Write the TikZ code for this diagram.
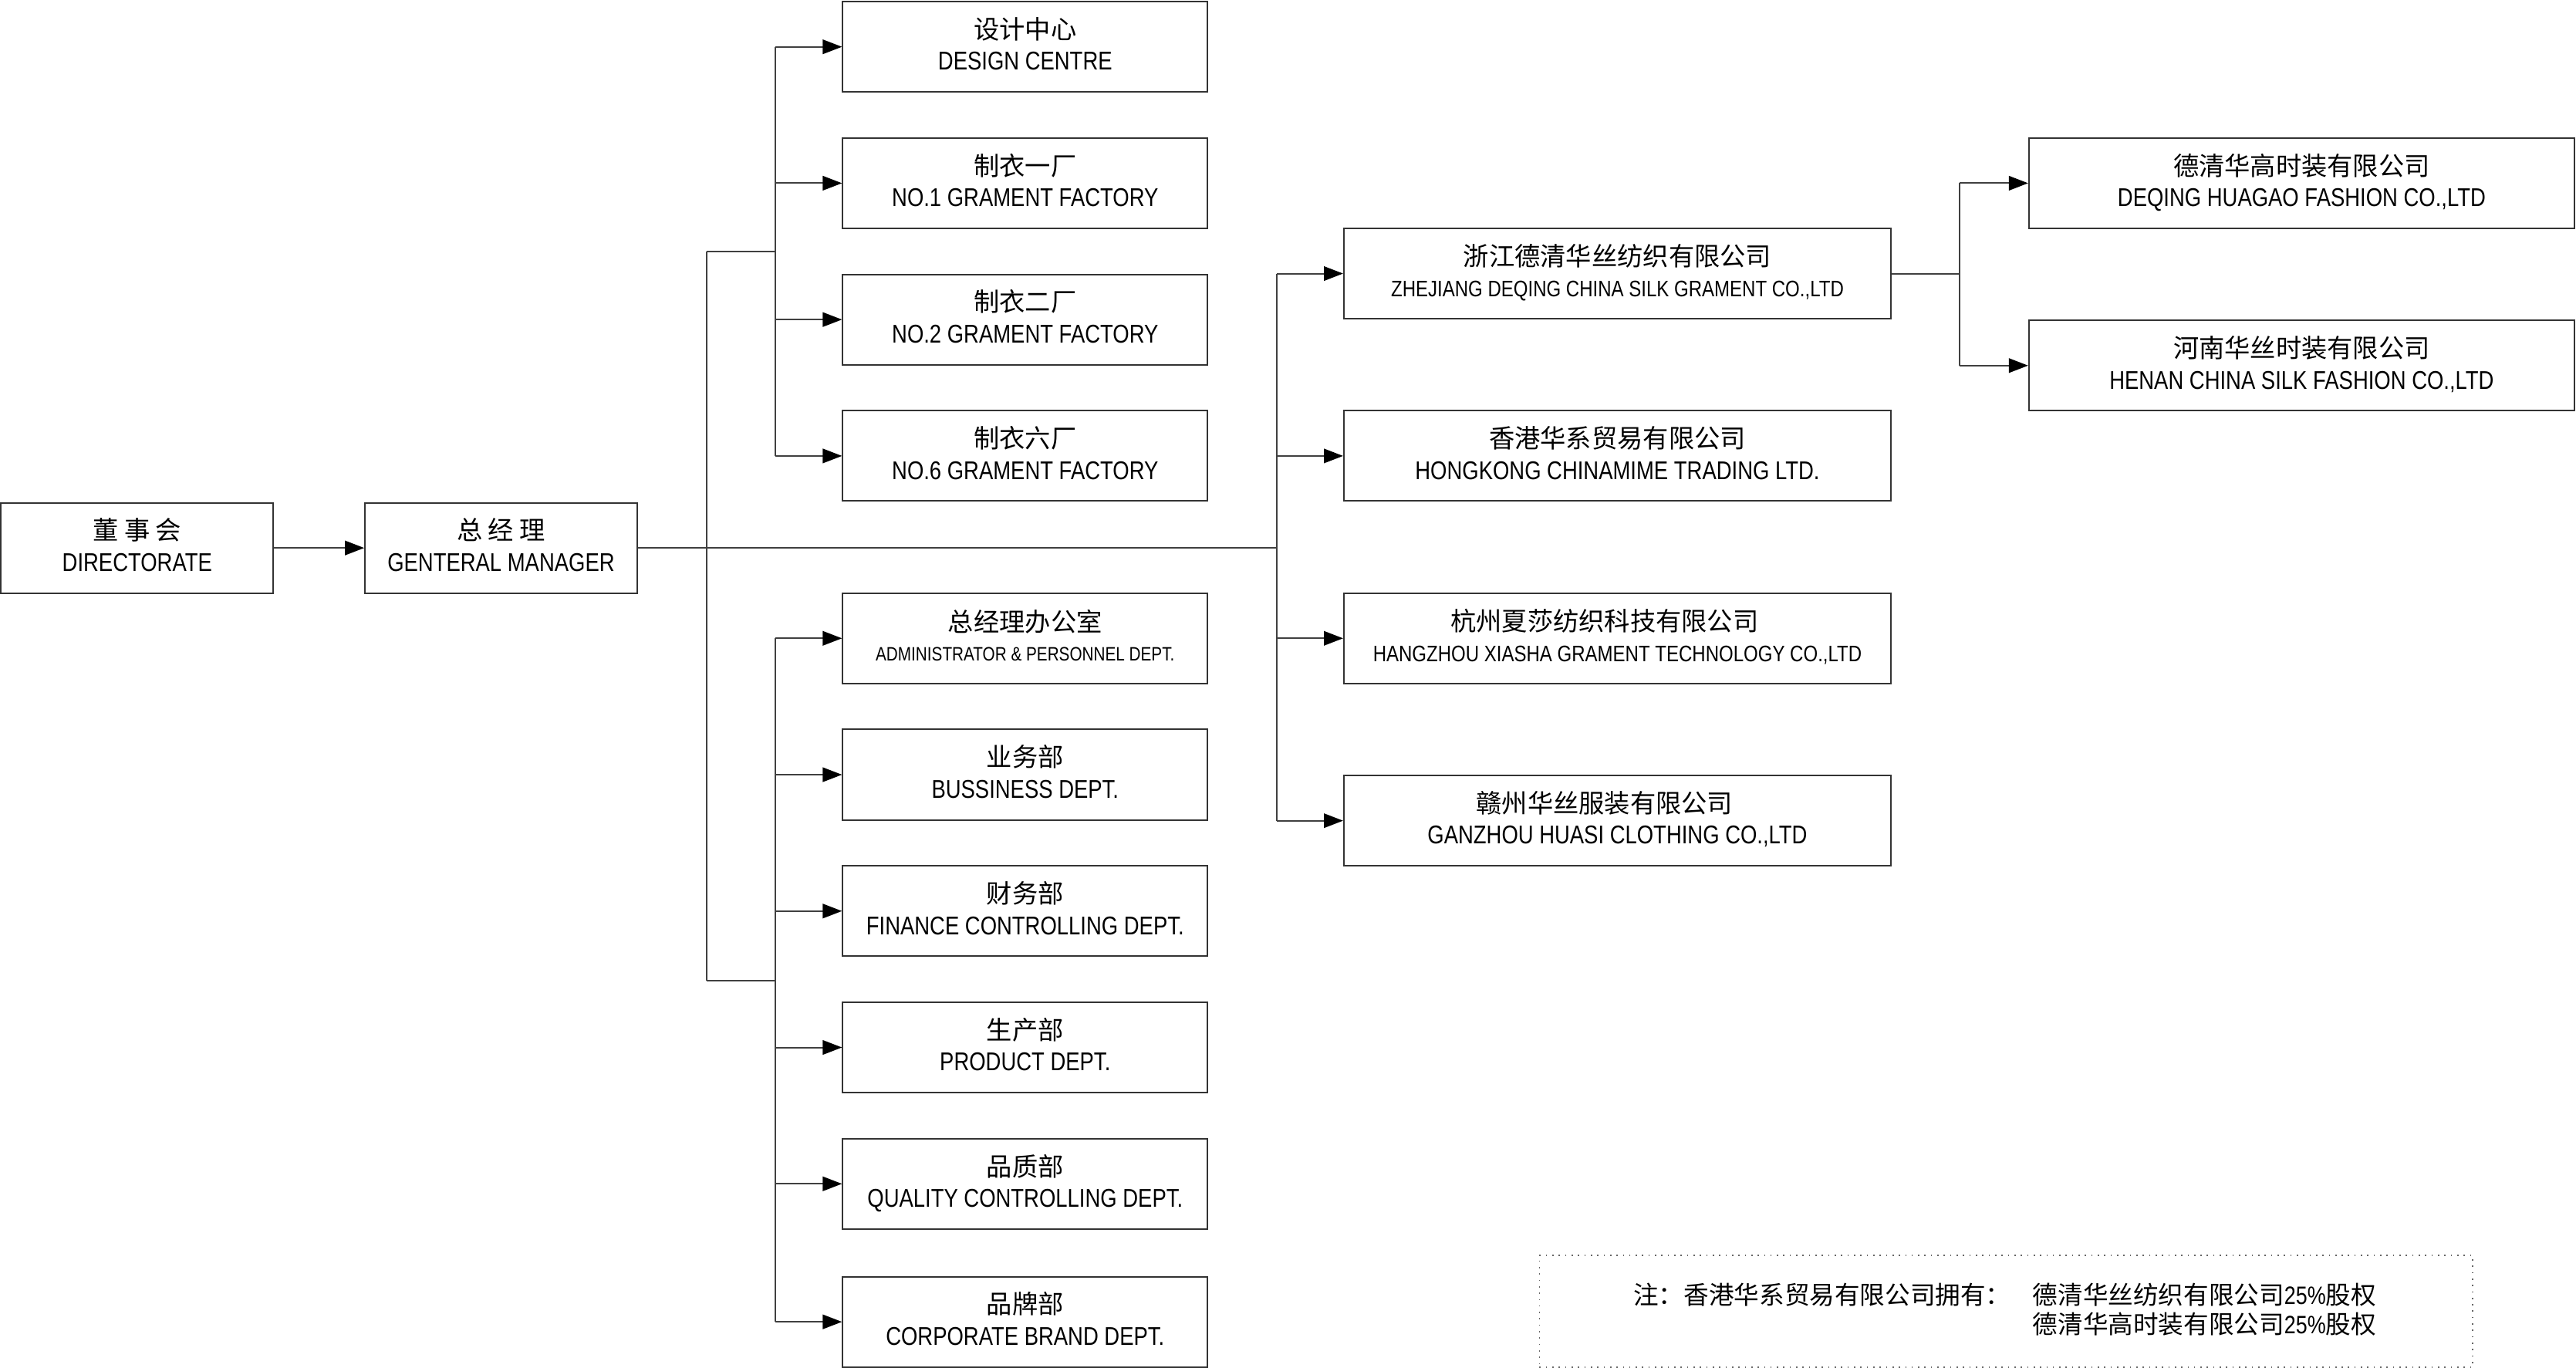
\documentclass[tikz,border=0pt]{standalone}
\usepackage{fontspec}
\setmainfont{Liberation Sans}[FakeStretch=0.825]
\newfontfamily\cjk{Noto Sans CJK SC}
\usetikzlibrary{arrows.meta}
\begin{document}
\begin{tikzpicture}[x=0.64pt,y=-0.64pt,
  box/.style={draw=black!80, line width=0.6pt, minimum height=35.2pt, inner sep=1pt, align=center,
    text depth=2.4pt, font=\fontsize{10}{12.2}\selectfont},
  wA/.style={minimum width=142.1pt},
  wB/.style={minimum width=213.1pt},
  wC/.style={minimum width=212.5pt},
  wD/.style={minimum width=106pt},
  conn/.style={draw=black!75, line width=0.6pt},
  arr/.style={conn, -{Triangle[length=7.5pt,width=5.6pt,fill=black,color=black]}},
  note/.style={draw=black!60, line width=0.5pt, dotted}
]
\useasboundingbox (0,0) rectangle (1568,832.6);

% left
\node[box,wD] (dir) at (83.5,333.5) {{\cjk 董 事 会}\\DIRECTORATE};
\node[box,wD] (gm) at (305,333.5) {{\cjk 总 经 理}\\GENTERAL MANAGER};

% top group
\node[box,wA] (ds) at (624,28.5) {{\cjk 设计中心}\\DESIGN CENTRE};
\node[box,wA] (f1) at (624,111.5) {{\cjk 制衣一厂}\\NO.1 GRAMENT FACTORY};
\node[box,wA] (f2) at (624,194.5) {{\cjk 制衣二厂}\\NO.2 GRAMENT FACTORY};
\node[box,wA] (f6) at (624,277.5) {{\cjk 制衣六厂}\\NO.6 GRAMENT FACTORY};

% lower group
\node[box,wA] (ad) at (624,388.5) {{\cjk 总经理办公室}\\[-1pt]{\fontsize{7.55}{10}\selectfont ADMINISTRATOR \& PERSONNEL DEPT.}};
\node[box,wA] (bu) at (624,471.5) {{\cjk 业务部}\\BUSSINESS DEPT.};
\node[box,wA] (fi) at (624,554.5) {{\cjk 财务部}\\FINANCE CONTROLLING DEPT.};
\node[box,wA] (pr) at (624,637.5) {{\cjk 生产部}\\PRODUCT DEPT.};
\node[box,wA] (qu) at (624,720.5) {{\cjk 品质部}\\QUALITY CONTROLLING DEPT.};
\node[box,wA] (br) at (624,804.5) {{\cjk 品牌部}\\CORPORATE BRAND DEPT.};

% subsidiaries
\node[box,wB] (zj) at (984.5,166.5) {{\cjk 浙江德清华丝纺织有限公司}\\{\fontsize{8.75}{12}\selectfont ZHEJIANG DEQING CHINA SILK GRAMENT CO.,LTD}};
\node[box,wB] (hk) at (984.5,277.5) {{\cjk 香港华系贸易有限公司}\\HONGKONG CHINAMIME TRADING LTD.};
\node[box,wB] (hz) at (984.5,388.5) {{\cjk 杭州夏莎纺织科技有限公司}\hspace*{10pt}\\{\fontsize{8.75}{12}\selectfont HANGZHOU XIASHA GRAMENT TECHNOLOGY CO.,LTD}};
\node[box,wB] (gz) at (984.5,499.5) {{\cjk 赣州华丝服装有限公司}\hspace*{10pt}\\GANZHOU HUASI CLOTHING CO.,LTD};

% right
\node[box,wC] (dq) at (1401,111.5) {{\cjk 德清华高时装有限公司}\\DEQING HUAGAO FASHION CO.,LTD};
\node[box,wC] (hn) at (1401,222.5) {{\cjk 河南华丝时装有限公司}\\HENAN CHINA SILK FASHION CO.,LTD};

% junction coordinates
\coordinate (ja) at (430,153);
\coordinate (jb) at (430,597);
\coordinate (bt) at (472,153);
\coordinate (bb) at (472,597);
\coordinate (mid) at (777,333.5);
\coordinate (rj) at (1193,166.5);

% connectors
\draw[arr] (dir.east) -- (gm.east -| gm.west);
\draw[conn] (gm.east) -- (mid);
\draw[conn] (ja) -- (jb);
\draw[conn] (ja) -- (bt);
\draw[conn] (jb) -- (bb);
\draw[conn] (bt |- ds.west) -- (bt |- f6.west);
\foreach \n in {ds,f1,f2,f6} \draw[arr] (bt |- \n.west) -- (\n.west);
\draw[conn] (bb |- ad.west) -- (bb |- br.west);
\foreach \n in {ad,bu,fi,pr,qu,br} \draw[arr] (bb |- \n.west) -- (\n.west);
\draw[conn] (mid |- zj.west) -- (mid |- gz.west);
\foreach \n in {zj,hk,hz,gz} \draw[arr] (mid |- \n.west) -- (\n.west);
\draw[conn] (zj.east) -- (rj);
\draw[conn] (rj |- dq.west) -- (rj |- hn.west);
\foreach \n in {dq,hn} \draw[arr] (rj |- \n.west) -- (\n.west);

% note
\node[note, minimum width=363.5pt, minimum height=43.5pt] (nb) at (1221,798) {};
\node[anchor=west, inner sep=0pt, font=\fontsize{9.8}{11.5}\selectfont] (n1) at (994,788) {\cjk 注：香港华系贸易有限公司拥有：};
\node[anchor=west, inner sep=0pt, font=\fontsize{9.8}{11.5}\selectfont] (n2) at (1237,788) {{\cjk 德清华丝纺织有限公司}25\%{\cjk 股权}};
\node[anchor=west, inner sep=0pt, font=\fontsize{9.8}{11.5}\selectfont] (n3) at (1237,806) {{\cjk 德清华高时装有限公司}25\%{\cjk 股权}};
\end{tikzpicture}
\end{document}
